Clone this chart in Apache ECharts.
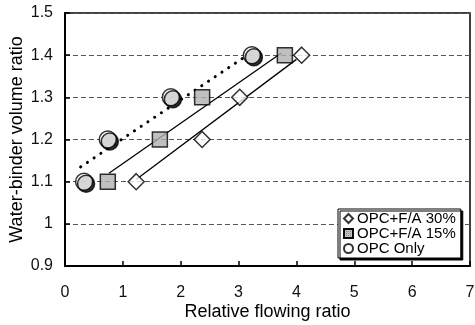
<!DOCTYPE html>
<html>
<head>
<meta charset="utf-8">
<script src="https://cdn.jsdelivr.net/npm/echarts@6/dist/echarts.min.js"></script>
<style>
  html, body { margin: 0; padding: 0; background: #fff; }
  #chart { width: 475px; height: 325px; }
</style>
</head>
<body>
<div id="chart"></div>
<script>
// measured points, [relative flowing ratio, water-binder volume ratio]
const fa30Points = [[1.23, 1.1], [2.37, 1.2], [3.02, 1.3], [4.09, 1.4]];
const fa15Points = [[0.74, 1.1], [1.64, 1.2], [2.37, 1.3], [3.80, 1.4]];
const opcPoints = [[0.33, 1.1], [0.74, 1.2], [1.83, 1.3], [3.23, 1.4]];

// trend lines (start / end)
const fa30Trend = [[1.23, 1.105], [4.0, 1.39]];
const fa15Trend = [[0.76, 1.12], [3.74, 1.405]];
const opcTrend = [[0.27, 1.135], [3.15, 1.40]];

const seriesNames = ['OPC+F/A 30%', 'OPC+F/A 15%', 'OPC Only'];

const font = 'Liberation Sans, Arial, sans-serif';
const chart = echarts.init(document.getElementById('chart'));

chart.setOption({
  animation: false,
  grid: {
    left: 65, right: 5, top: 13, bottom: 59,
    outerBoundsMode: 'none',
    show: true, borderColor: '#000', borderWidth: 1.5,
  },
  legend: {
    data: [
      { name: seriesNames[0], icon: 'diamond' },
      { name: seriesNames[1], icon: 'rect' },
      { name: seriesNames[2], icon: 'circle' },
    ],
    orient: 'vertical',
    left: 338, top: 209,
    padding: [2, 5, 2, 5],
    itemGap: 0,
    itemWidth: 9, itemHeight: 9,
    backgroundColor: '#fff',
    borderColor: '#000', borderWidth: 1,
    shadowColor: '#000', shadowOffsetX: 2, shadowOffsetY: 2, shadowBlur: 0,
    textStyle: { fontFamily: font, fontSize: 15, lineHeight: 15, color: '#000', padding: [0, 0, 0, -1] },
  },
  xAxis: {
    type: 'value', min: 0, max: 7, interval: 1,
    name: 'Relative flowing ratio', nameLocation: 'middle', nameGap: 37,
    nameMoveOverlap: false,
    nameTextStyle: { fontFamily: font, fontSize: 18, color: '#000' },
    axisLine: { lineStyle: { color: '#000', width: 2 } },
    axisTick: { inside: true, length: 5, lineStyle: { color: '#000', width: 1.5 } },
    axisLabel: { fontFamily: font, fontSize: 16, color: '#111', margin: 19 },
    splitLine: { show: false },
  },
  yAxis: {
    type: 'value', min: 0.9, max: 1.5, interval: 0.1,
    name: 'Water-binder volume ratio', nameLocation: 'middle', nameGap: 39,
    nameMoveOverlap: false,
    nameTextStyle: { fontFamily: font, fontSize: 18, color: '#000' },
    axisLine: { show: true, lineStyle: { color: '#000', width: 2 } },
    axisTick: { show: true, inside: true, length: 5, lineStyle: { color: '#000', width: 1.5 } },
    axisLabel: { fontFamily: font, fontSize: 16, color: '#111', margin: 12 },
    splitLine: { lineStyle: { color: '#555', type: [5, 3], width: 1 } },
  },
  series: [
    {
      type: 'line', data: opcTrend, symbol: 'none', silent: true, z: 2,
      lineStyle: { color: '#000', width: 3, type: [0.1, 8], cap: 'round' },
    },
    {
      type: 'line', data: fa15Trend, symbol: 'none', silent: true, z: 2,
      lineStyle: { color: '#000', width: 1.3 },
    },
    {
      type: 'line', data: fa30Trend, symbol: 'none', silent: true, z: 2,
      lineStyle: { color: '#000', width: 1.3 },
    },
    {
      name: seriesNames[0], type: 'scatter', data: fa30Points, z: 3,
      symbol: 'diamond', symbolSize: 16,
      itemStyle: { color: '#fff', borderColor: '#000', borderWidth: 1.5 },
    },
    {
      name: seriesNames[1], type: 'scatter', data: fa15Points, z: 3,
      symbol: 'rect', symbolSize: 15,
      itemStyle: {
        color: '#b0b0b0', borderColor: '#000', borderWidth: 1.5,
        decal: { symbol: 'rect', symbolSize: 1, color: 'rgba(0,0,0,0.35)', dashArrayX: [1, 1], dashArrayY: [1, 1] },
      },
    },
    {
      name: seriesNames[2], type: 'scatter', data: opcPoints, z: 3,
      symbol: 'circle', symbolSize: 17,
      itemStyle: {
        color: '#fff', borderColor: '#000', borderWidth: 1.5,
        shadowColor: '#000', shadowOffsetX: 2, shadowOffsetY: 2, shadowBlur: 0,
      },
    },
  ],
});
</script>
</body>
</html>
